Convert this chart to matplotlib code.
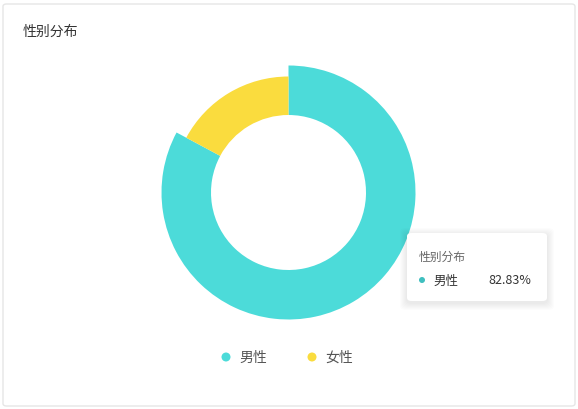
import matplotlib.pyplot as plt
from matplotlib.patches import FancyBboxPatch, Circle

plt.rcParams['font.family'] = ['Noto Sans CJK SC', 'DejaVu Sans']

# data
labels = ['男性', '女性']
values = [82.83, 17.17]
colors = ['#4cdbd9', '#fadc3e']
title = '性别分布'

W, H = 578, 410
fig = plt.figure(figsize=(W / 100, H / 100), dpi=100)


def fx(x):
    return x / W


def fy(y):
    return 1 - y / H


def dot(x, y, rad, color):
    # circle in pixel coords (top-left origin)
    c = Circle((x / 100, (H - y) / 100), rad / 100, transform=fig.dpi_scale_trans,
               fc=color, ec='none', zorder=5)
    fig.patches.append(c)


# card border
fig.patches.append(FancyBboxPatch((fx(3), fy(407)), fx(572), 402 / H,
                                  boxstyle='round,pad=0,rounding_size=0.006',
                                  transform=fig.transFigure, fc='white',
                                  ec='#e6e6e6', lw=1, zorder=-10))

fig.text(fx(23), fy(32), title, fontsize=10, color='#333333', va='center')

# donut (male slice is highlighted -> bigger outer radius)
cx, cy, r = 288.5, 193.5, 127
r_in, r_norm = 77.5, 116
ax = fig.add_axes([fx(cx - r), fy(cy + r), 2 * r / W, 2 * r / H])
wedges, _ = ax.pie(values, colors=colors, startangle=90, counterclock=False,
                   radius=1, wedgeprops=dict(width=1 - r_in / r, edgecolor='none'))
wedges[1].set_radius(r_norm / r)
wedges[1].set_width((r_norm - r_in) / r)
ax.set_xlim(-1, 1)
ax.set_ylim(-1, 1)
ax.set_aspect('auto')
ax.axis('off')

# legend
leg_x = [226, 312]
for i, lab in enumerate(labels):
    dot(leg_x[i], 358, 4.5, colors[i])
    fig.text(fx(leg_x[i] + 13), fy(358), lab, fontsize=10, color='#555555', va='center')

# tooltip with soft shadow
for k in range(1, 8):
    fig.patches.append(FancyBboxPatch((fx(407 - k), fy(304 + k)), (140 + 2 * k) / W, (68 + 2 * k) / H,
                                      boxstyle='round,pad=0,rounding_size=0.01',
                                      transform=fig.transFigure, fc='black', ec='none',
                                      alpha=0.012, zorder=3))
fig.patches.append(FancyBboxPatch((fx(407), fy(302)), 140 / W, 68 / H,
                                  boxstyle='round,pad=0,rounding_size=0.008',
                                  transform=fig.transFigure, fc='white', ec='none', zorder=4))
fig.text(fx(419), fy(257), title, fontsize=8.5, color='#666666', va='center', zorder=6)
dot(422, 281, 3, '#3fbfbf')
fig.text(fx(433), fy(281), labels[0], fontsize=9, color='#333333', va='center', zorder=6)
fig.text(fx(531), fy(281), f'{values[0]:.2f}%', fontsize=9, color='#333333',
         va='center', ha='right', zorder=6)

fig.savefig('out.png', dpi=100)
